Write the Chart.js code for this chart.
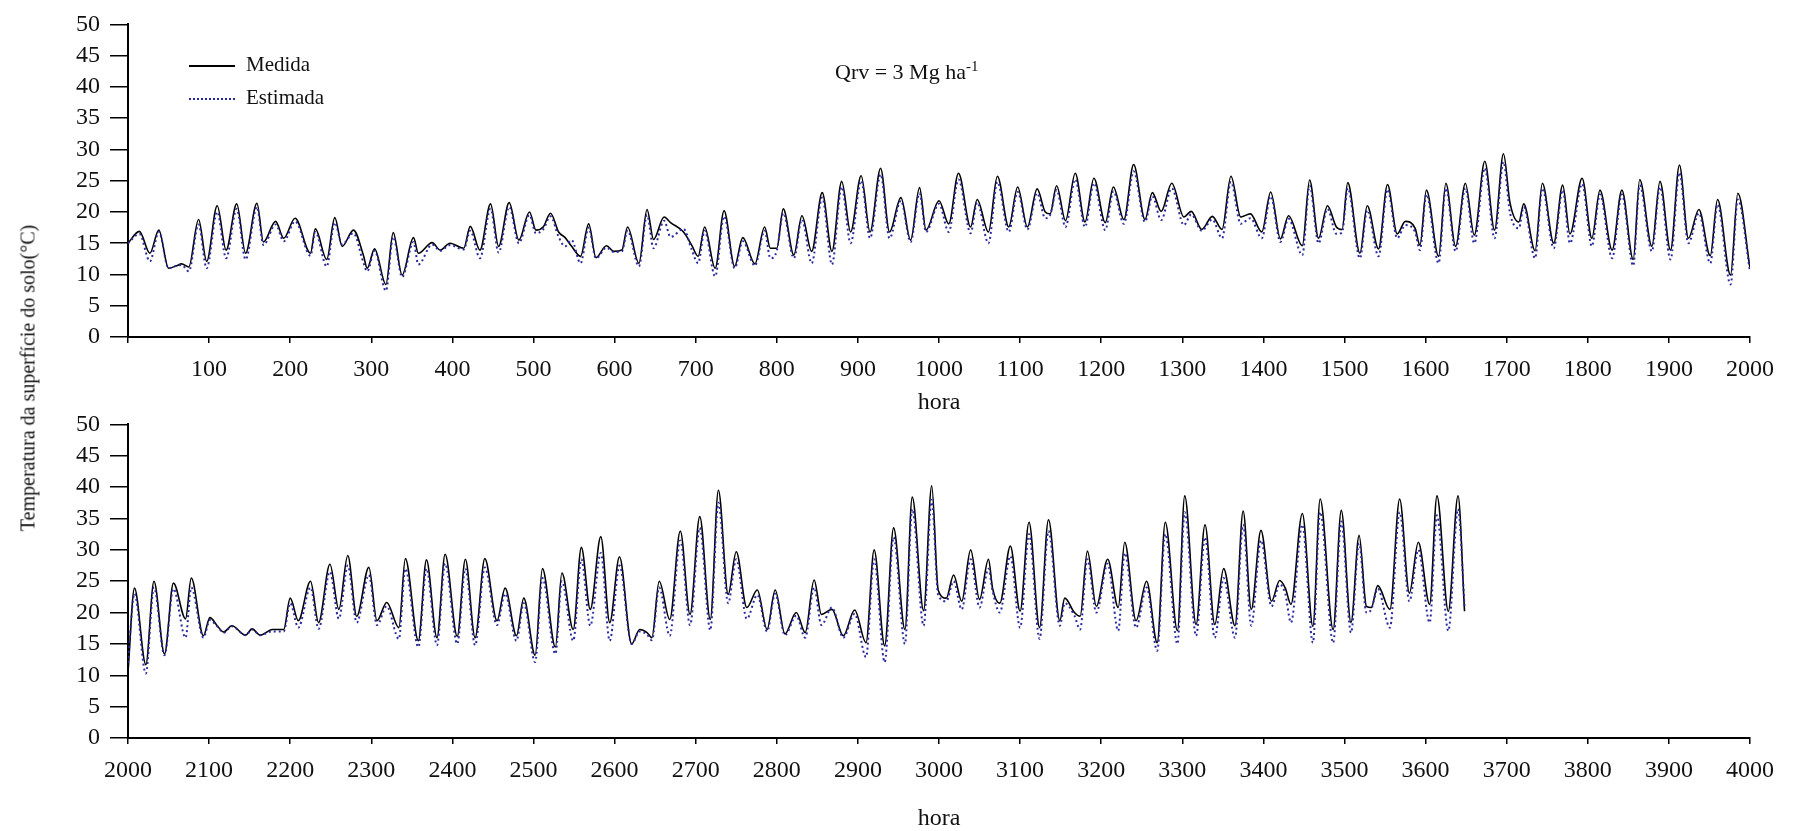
<!DOCTYPE html>
<html>
<head>
<meta charset="utf-8">
<script src="https://cdn.jsdelivr.net/npm/chart.js@4.4.0/dist/chart.umd.min.js"></script>
<style>
  body {
    margin: 0;
    background: #fff;
    width: 1794px;
    height: 831px;
    position: relative;
    overflow: hidden;
    font-family: "Liberation Serif", "Times New Roman", serif;
    color: #111;
  }
  canvas { position: absolute; left: 0; }
  #chartTop { top: 0; }
  #chartBottom { top: 400px; }
  .ylabel {
    position: absolute;
    left: 28px;
    top: 378px;
    transform: translate(-50%, -50%) rotate(-90deg);
    white-space: nowrap;
    font-size: 20px;
  }
  .legend { position: absolute; left: 189px; top: 48px; font-size: 21px; }
  .legend .item { height: 33px; line-height: 33px; white-space: nowrap; }
  .legend .swatch { display: inline-block; width: 46px; vertical-align: middle; margin-right: 11px; }
  .legend .solid { border-top: 2px solid #000; }
  .legend .dotted { border-top: 2px dotted #2a2aa0; }
  .title { position: absolute; left: 835px; top: 50px; font-size: 22px; line-height: 32px; white-space: nowrap; }
  .title sup { font-size: 15px; }
</style>
</head>
<body>
<canvas id="chartTop" width="1794" height="420"></canvas>
<canvas id="chartBottom" width="1794" height="431"></canvas>
<div class="ylabel">Temperatura da superfície do solo(°C)</div>
<div class="legend">
  <div class="item"><span class="swatch solid"></span>Medida</div>
  <div class="item"><span class="swatch dotted"></span>Estimada</div>
</div>
<div class="title">Qrv = 3 Mg ha<sup>-1</sup></div>
<script>
// Top panel: hours 0-2000 (peaks and troughs)
const hoursTop = [
  0, 14, 27, 38, 50, 60, 66, 75, 87, 97,
  110, 121, 134, 145, 159, 167, 182, 192, 206, 225,
  231, 245, 255, 264, 278, 290, 295, 304, 318, 327,
  338, 352, 358, 375, 385, 397, 414, 422, 434, 447,
  457, 470, 482, 495, 503, 512, 521, 531, 539, 547,
  558, 568, 577, 590, 599, 609, 616, 630, 640, 648,
  661, 669, 685, 695, 703, 711, 724, 735, 748, 758,
  773, 785, 792, 800, 808, 821, 831, 843, 856, 868,
  880, 891, 904, 915, 928, 939, 953, 965, 976, 984,
  1000, 1012, 1024, 1039, 1047, 1061, 1072, 1086, 1097, 1109,
  1121, 1131, 1137, 1145, 1156, 1168, 1180, 1191, 1205, 1215,
  1228, 1240, 1254, 1263, 1274, 1287, 1302, 1311, 1324, 1337,
  1349, 1360, 1372, 1384, 1398, 1409, 1421, 1431, 1448, 1457,
  1468, 1479, 1490, 1497, 1504, 1519, 1528, 1542, 1553, 1565,
  1575, 1587, 1593, 1601, 1616, 1625, 1637, 1649, 1660, 1673,
  1685, 1696, 1704, 1715, 1721, 1735, 1744, 1758, 1769, 1778,
  1793, 1805, 1815, 1830, 1842, 1856, 1864, 1879, 1889, 1902,
  1913, 1924, 1937, 1951, 1960, 1976, 1985, 2000
];
const medidaTop = [
  15.0, 16.9, 13.4, 17.1, 11.0, 11.4, 11.7, 11.2, 18.8, 12.1,
  21.0, 13.9, 21.3, 13.4, 21.4, 15.2, 18.5, 15.8, 19.0, 13.4,
  17.3, 12.4, 19.1, 14.5, 17.1, 13.2, 11.0, 14.1, 8.4, 16.7,
  9.9, 15.9, 13.4, 15.1, 13.9, 15.0, 14.2, 17.7, 13.9, 21.3,
  14.5, 21.5, 15.5, 20.0, 17.1, 17.6, 19.8, 16.8, 15.9, 14.5,
  12.9, 18.1, 12.7, 14.6, 13.7, 13.9, 17.6, 11.8, 20.4, 15.6,
  19.2, 18.3, 16.8, 14.7, 12.9, 17.6, 11.0, 20.2, 11.3, 15.9,
  11.7, 17.6, 14.2, 14.2, 20.5, 13.1, 19.4, 13.7, 23.1, 13.7,
  24.9, 16.8, 25.8, 16.8, 27.0, 16.8, 22.3, 15.5, 23.9, 17.1,
  21.8, 18.1, 26.2, 17.6, 22.0, 16.8, 25.7, 17.6, 24.0, 17.6,
  23.7, 20.0, 19.7, 24.2, 18.6, 26.2, 18.4, 25.4, 18.3, 24.0,
  18.8, 27.6, 18.8, 23.1, 20.1, 24.6, 19.2, 20.1, 17.2, 19.3,
  17.2, 25.7, 19.2, 19.7, 16.8, 23.2, 15.7, 19.4, 14.6, 25.1,
  15.8, 21.0, 17.6, 17.2, 24.7, 13.4, 21.0, 14.1, 24.4, 16.5,
  18.5, 17.4, 14.7, 23.5, 12.9, 24.6, 14.5, 24.6, 16.3, 28.1,
  17.1, 29.3, 21.5, 18.4, 21.3, 13.8, 24.6, 15.0, 24.3, 16.5,
  25.4, 15.8, 23.5, 13.9, 23.5, 12.4, 25.2, 14.5, 24.9, 13.9,
  27.5, 15.8, 20.4, 13.0, 22.0, 9.9, 23.0, 11.0
];
const estimadaTop = [
  15.0, 16.5, 12.1, 16.8, 11.0, 11.4, 11.5, 10.5, 18.0, 11.0,
  20.0, 12.6, 20.5, 12.4, 20.8, 14.7, 18.0, 15.3, 18.5, 13.0,
  16.8, 11.3, 18.3, 14.8, 16.6, 12.0, 10.5, 13.8, 7.4, 16.0,
  9.6, 15.2, 11.6, 14.8, 13.8, 14.7, 14.0, 17.0, 12.6, 20.5,
  13.5, 20.8, 15.0, 19.5, 16.6, 17.2, 19.3, 16.0, 14.5, 15.5,
  11.8, 17.5, 12.6, 14.3, 13.6, 13.7, 17.0, 11.3, 19.5, 14.2,
  18.6, 16.0, 17.3, 14.0, 11.8, 17.0, 9.7, 19.3, 11.0, 15.3,
  11.4, 17.0, 12.6, 13.8, 19.8, 12.6, 18.8, 11.8, 22.3, 11.6,
  24.0, 15.0, 25.0, 15.8, 26.0, 15.8, 21.8, 15.2, 23.0, 16.8,
  21.3, 16.8, 25.2, 16.6, 21.5, 15.0, 24.8, 16.8, 23.2, 17.2,
  23.0, 19.0, 19.5, 23.5, 17.6, 25.2, 17.6, 24.6, 17.1, 23.3,
  18.1, 26.5, 18.4, 22.5, 18.7, 23.8, 17.9, 19.6, 17.0, 18.8,
  15.8, 24.8, 18.1, 19.0, 15.8, 22.5, 15.2, 18.9, 13.1, 24.2,
  15.0, 20.5, 16.5, 16.7, 23.8, 12.6, 20.3, 12.9, 23.6, 15.8,
  17.9, 16.8, 13.9, 22.8, 11.8, 23.8, 13.7, 23.8, 15.0, 27.0,
  15.8, 28.0, 19.9, 17.4, 20.8, 12.6, 23.8, 14.2, 23.5, 15.0,
  24.5, 14.5, 22.8, 12.6, 22.8, 11.4, 24.3, 13.7, 24.0, 12.4,
  26.3, 15.0, 19.8, 11.8, 21.2, 8.4, 22.0, 10.5
];

// Bottom panel: hours 2000-3648
const hoursBottom = [
  2000, 2008, 2022, 2032, 2045, 2056, 2071, 2078, 2093, 2101,
  2110, 2118, 2128, 2145, 2153, 2163, 2178, 2192, 2200, 2210,
  2225, 2235, 2249, 2260, 2271, 2282, 2297, 2307, 2319, 2334,
  2342, 2358, 2368, 2381, 2391, 2406, 2416, 2428, 2440, 2455,
  2465, 2479, 2488, 2502, 2511, 2527, 2535, 2549, 2559, 2570,
  2583, 2594, 2606, 2621, 2631, 2640, 2646, 2655, 2668, 2681,
  2693, 2705, 2718, 2728, 2740, 2750, 2763, 2776, 2788, 2798,
  2810, 2824, 2835, 2846, 2855, 2868, 2882, 2896, 2910, 2920,
  2933, 2944, 2958, 2967, 2981, 2991, 2999, 3009, 3018, 3028,
  3039, 3050, 3061, 3066, 3075, 3088, 3100, 3111, 3124, 3135,
  3149, 3155, 3167, 3174, 3183, 3194, 3208, 3221, 3229, 3243,
  3256, 3269, 3279, 3294, 3303, 3317, 3328, 3340, 3351, 3365,
  3375, 3385, 3397, 3410, 3420, 3427, 3434, 3448, 3461, 3470,
  3486, 3496, 3508, 3518, 3527, 3533, 3541, 3556, 3568, 3580,
  3591, 3605, 3614, 3628, 3640, 3648
];
const medidaBottom = [
  10.5, 23.9, 11.7, 25.0, 13.4, 24.7, 19.0, 25.5, 16.3, 19.2,
  17.9, 16.9, 17.9, 16.4, 17.4, 16.4, 17.3, 17.3, 22.3, 18.7,
  25.0, 18.4, 27.7, 20.5, 29.1, 19.4, 27.2, 18.7, 21.6, 17.6,
  28.6, 15.5, 28.4, 16.0, 29.3, 16.2, 28.5, 16.0, 28.6, 18.7,
  23.9, 16.3, 22.3, 13.2, 27.0, 14.5, 26.3, 17.3, 30.4, 20.5,
  32.1, 18.4, 28.9, 15.0, 17.3, 16.8, 16.0, 25.0, 18.9, 33.0,
  19.7, 35.3, 18.9, 39.5, 22.9, 29.7, 20.8, 23.6, 17.3, 23.6,
  16.6, 20.0, 16.8, 25.2, 19.7, 20.5, 16.3, 20.4, 15.2, 30.0,
  14.7, 33.5, 17.3, 38.4, 20.3, 40.2, 23.6, 22.3, 26.0, 21.8,
  30.0, 22.1, 28.5, 23.9, 21.5, 30.6, 20.2, 34.4, 17.6, 34.8,
  18.7, 22.3, 20.0, 19.4, 29.8, 21.0, 28.5, 20.8, 31.2, 18.7,
  25.0, 15.2, 34.4, 17.1, 38.6, 18.1, 34.0, 18.1, 27.0, 17.9,
  36.2, 20.5, 33.1, 21.8, 25.1, 23.9, 21.3, 35.8, 17.8, 38.1,
  17.3, 36.3, 18.4, 32.3, 21.0, 20.8, 24.3, 20.5, 38.1, 23.1,
  31.2, 21.3, 38.6, 20.2, 38.6, 20.2
];
const estimadaBottom = [
  12.0, 23.0, 10.3, 24.0, 13.2, 23.8, 16.0, 24.0, 16.0, 18.8,
  17.8, 16.8, 17.8, 16.4, 17.3, 16.4, 17.0, 17.0, 21.5, 17.6,
  24.0, 17.4, 26.5, 19.0, 27.5, 18.4, 26.0, 18.0, 21.0, 15.8,
  27.0, 14.5, 27.0, 14.8, 27.8, 15.0, 27.0, 14.8, 27.2, 18.0,
  23.0, 15.5, 21.5, 12.1, 25.5, 13.4, 25.0, 15.5, 28.5, 17.9,
  29.5, 15.5, 27.5, 15.0, 17.0, 16.5, 15.6, 24.0, 16.3, 31.5,
  18.0, 33.5, 17.2, 37.5, 21.5, 28.5, 19.0, 22.8, 17.0, 23.0,
  16.4, 19.5, 16.0, 24.0, 18.0, 20.8, 16.0, 19.8, 12.9, 28.5,
  12.1, 32.0, 15.0, 36.5, 17.9, 38.0, 22.8, 21.8, 25.0, 20.5,
  28.5, 20.8, 27.0, 23.5, 20.0, 29.0, 17.6, 32.5, 15.8, 33.0,
  17.9, 21.5, 19.5, 17.3, 28.5, 20.0, 27.8, 17.1, 29.5, 17.6,
  24.0, 13.9, 32.5, 15.0, 36.0, 16.3, 32.0, 16.0, 25.5, 16.0,
  34.0, 17.9, 31.5, 21.0, 24.5, 23.0, 18.4, 34.0, 15.2, 36.0,
  15.2, 34.5, 16.8, 31.0, 20.0, 20.5, 23.8, 17.6, 36.0, 21.8,
  30.0, 18.4, 35.5, 17.1, 36.5, 21.0
];

const tickFont = { family: "'Liberation Serif', 'Times New Roman', serif", size: 24 };
const titleFont = { family: "'Liberation Serif', 'Times New Roman', serif", size: 24, lineHeight: 1 };

function toPoints(xs, ys) {
  return xs.map((x, i) => ({ x, y: ys[i] }));
}

// Builds one panel; sizes chosen so the plot area lands where the original has it
function makePanel(id, hours, medida, estimada, xMin, xMax, opts) {
  return new Chart(document.getElementById(id), {
    type: "line",
    data: {
      datasets: [
        {
          label: "Estimada",
          data: toPoints(hours, estimada),
          borderColor: "#2a2aa0",
          borderWidth: 2,
          borderDash: [2, 3],
          pointRadius: 0,
          cubicInterpolationMode: "monotone",
          order: 0
        },
        {
          label: "Medida",
          data: toPoints(hours, medida),
          borderColor: "#000",
          borderWidth: 1.6,
          pointRadius: 0,
          cubicInterpolationMode: "monotone",
          order: 1
        }
      ]
    },
    options: {
      responsive: false,
      animation: false,
      devicePixelRatio: 1,
      layout: { padding: { top: opts.padTop, right: 44, left: 0, bottom: 0 } },
      plugins: { legend: { display: false }, tooltip: { enabled: false } },
      scales: {
        x: {
          type: "linear",
          min: xMin,
          max: xMax,
          afterFit: s => { s.height = opts.xHeight; },
          ticks: {
            stepSize: 100,
            autoSkip: false,
            maxRotation: 0,
            padding: 12,
            color: "#111",
            font: tickFont,
            callback: v => (opts.hideFirst && v === xMin ? "" : v)
          },
          grid: { drawOnChartArea: false, tickLength: 6, color: "#000", lineWidth: 1.5 },
          border: { color: "#000", width: 2 },
          title: { display: true, text: "hora", color: "#111", font: titleFont, padding: { top: 0, bottom: opts.titlePad } }
        },
        y: {
          min: 0,
          max: 50,
          afterFit: s => { s.width = 128; },
          ticks: { stepSize: 5, autoSkip: false, padding: 10, color: "#111", font: tickFont },
          grid: { drawOnChartArea: false, tickLength: 18, color: "#000", lineWidth: 1.5 },
          border: { color: "#000", width: 2 }
        }
      }
    }
  });
}

makePanel("chartTop", hoursTop, medidaTop, estimadaTop, 0, 2000,
  { padTop: 20, xHeight: 83, titlePad: 5, hideFirst: true });
makePanel("chartBottom", hoursBottom, medidaBottom, estimadaBottom, 2000, 4000,
  { padTop: 19, xHeight: 93, titlePad: 0, hideFirst: false });
</script>
</body>
</html>
